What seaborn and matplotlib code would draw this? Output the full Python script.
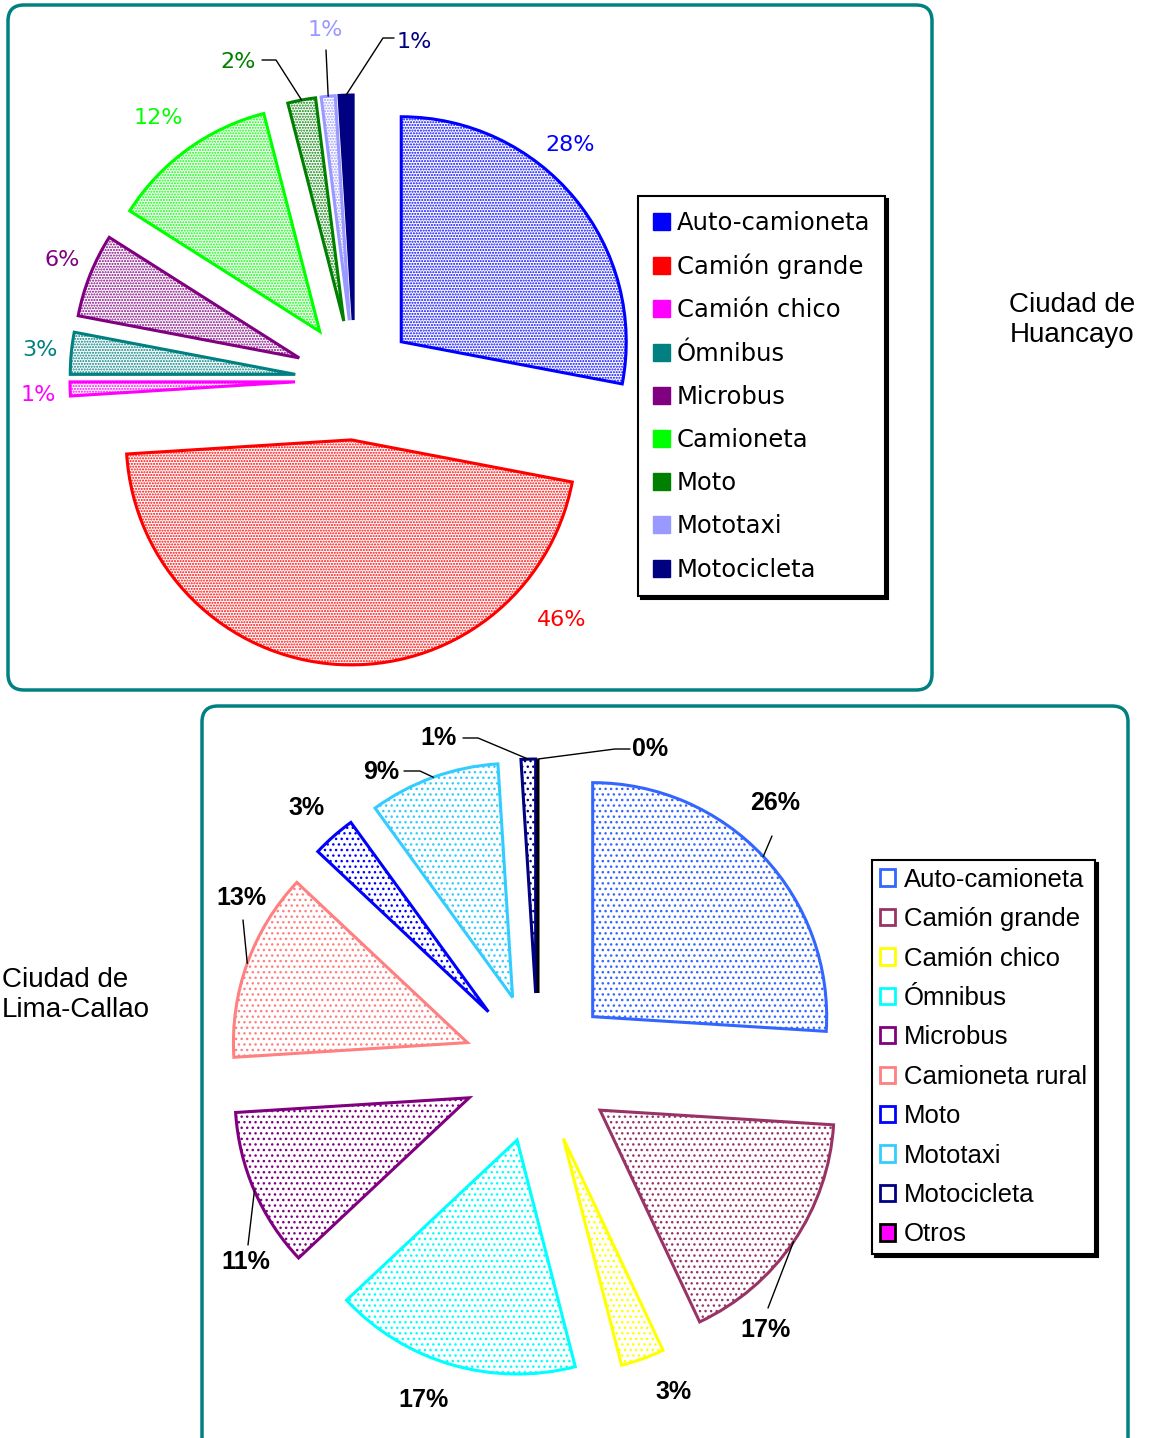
import matplotlib
matplotlib.use("Agg")
import matplotlib.pyplot as plt
import seaborn as sns
import numpy as np
from matplotlib.patches import FancyBboxPatch, Patch

sns.set_theme(style="white")
plt.rcParams['font.family'] = ['DejaVu Sans']
plt.rcParams['text.color'] = 'black'
plt.rcParams['hatch.linewidth'] = 1.0

W, H = 1151, 1438

# --- Ciudad de Huancayo ---
hu_categories = ['Auto-camioneta', 'Camión grande', 'Camión chico', 'Ómnibus', 'Microbus',
                 'Camioneta', 'Moto', 'Mototaxi', 'Motocicleta']
hu_values = [28, 46, 1, 3, 6, 12, 2, 1, 1]
hu_labels = ['28%', '46%', '1%', '3%', '6%', '12%', '2%', '1%', '1%']
hu_colors = ['#0000FF', '#FF0000', '#FF00FF', '#008080', '#800080',
             '#00FF00', '#008000', '#9999FF', '#000080']

# --- Ciudad de Lima-Callao ---
li_categories = ['Auto-camioneta', 'Camión grande', 'Camión chico', 'Ómnibus', 'Microbus',
                 'Camioneta rural', 'Moto', 'Mototaxi', 'Motocicleta', 'Otros']
li_values = [26, 17, 3, 17, 11, 13, 3, 9, 1, 0]
li_labels = ['26%', '17%', '3%', '17%', '11%', '13%', '3%', '9%', '1%', '0%']
li_colors = ['#3366FF', '#993366', '#FFFF00', '#00FFFF', '#800080',
             '#FF8080', '#0000FF', '#33CCFF', '#000080', '#FF00FF']

# layout (pixel coords, y measured from top)
hu_label_pos = [(570, 145), (562, 620), (38, 395), (40, 350), (62, 260),
                (158, 118), (238, 62), (325, 30), (414, 42)]
hu_leaders = {6: [(262, 60), (276, 60)], 7: [(326, 50)], 8: [(394, 38), (383, 38)]}
li_label_pos = [(775, 803), (766, 1330), (674, 1392), (424, 1400), (246, 1262),
                (241, 898), (307, 808), (381, 772), (439, 738), (650, 749)]
li_leaders = {0: [(772, 836)], 1: [(768, 1308)], 4: [(248, 1245)], 5: [(243, 920)],
              7: [(404, 771), (420, 771)], 8: [(463, 738), (478, 738)],
              9: [(630, 749), (615, 749)]}


def px(x, y):
    return x, H - y


def arc_mid(w):
    t = np.deg2rad((w.theta1 + w.theta2) / 2)
    return w.center[0] + w.r * np.cos(t), w.center[1] + w.r * np.sin(t)


fig = plt.figure(figsize=(W / 100, H / 100), dpi=100)
ax = fig.add_axes([0, 0, 1, 1])

# frames
ax.add_patch(FancyBboxPatch(px(8, 690), 924, 685, boxstyle="round,pad=0,rounding_size=16",
                            fc='none', ec='#008080', lw=2.5, zorder=0))
ax.add_patch(FancyBboxPatch(px(202, 1460), 926, 754, boxstyle="round,pad=0,rounding_size=16",
                            fc='none', ec='#008080', lw=2.5, zorder=0))

# top pie
hu_wedges, _ = ax.pie(hu_values, startangle=90, counterclock=False, radius=225,
                      center=px(355, 380), explode=[60] * len(hu_values),
                      wedgeprops=dict(linewidth=2.2))
for i, w in enumerate(hu_wedges):
    c = hu_colors[i]
    w.set_edgecolor(c)
    if hu_categories[i] == 'Motocicleta':
        w.set_facecolor(c)
    else:
        w.set_facecolor('white')
        w.set_hatch('......')

for i, (x, y) in enumerate(hu_label_pos):
    ax.text(*px(x, y), hu_labels[i], color=hu_colors[i], fontsize=16,
            ha='center', va='center', family=['DejaVu Sans'])
for i, pts in hu_leaders.items():
    xs = [px(*p)[0] for p in pts] + [arc_mid(hu_wedges[i])[0]]
    ys = [px(*p)[1] for p in pts] + [arc_mid(hu_wedges[i])[1]]
    ax.plot(xs, ys, color='black', lw=1)

# bottom pie
li_wedges, _ = ax.pie(li_values, startangle=90, counterclock=False, radius=234,
                      center=px(538, 1068), explode=[75] * len(li_values),
                      wedgeprops=dict(linewidth=2.2))
for i, w in enumerate(li_wedges):
    c = li_colors[i]
    w.set_facecolor('white')
    if li_categories[i] == 'Otros':
        w.set_edgecolor('black')
    else:
        w.set_edgecolor(c)
        w.set_hatch('...')

for i, (x, y) in enumerate(li_label_pos):
    ax.text(*px(x, y), li_labels[i], color='black', fontsize=18, fontweight='bold',
            ha='center', va='center', family=['Liberation Sans'])
for i, pts in li_leaders.items():
    xs = [px(*p)[0] for p in pts] + [arc_mid(li_wedges[i])[0]]
    ys = [px(*p)[1] for p in pts] + [arc_mid(li_wedges[i])[1]]
    ax.plot(xs, ys, color='black', lw=1)

# legends
hu_handles = [Patch(facecolor=c, edgecolor=c, hatch='++' if k != 'Motocicleta' else None)
              for c, k in zip(hu_colors, hu_categories)]
leg1 = ax.legend(hu_handles, hu_categories, loc='upper left',
                 bbox_to_anchor=(638 / W, 1 - 196 / H), bbox_transform=fig.transFigure,
                 borderaxespad=0, fancybox=False, edgecolor='black', framealpha=1,
                 shadow={'color': 'black', 'alpha': 1}, prop={'family': 'DejaVu Sans', 'size': 17.5},
                 labelcolor='black', labelspacing=0.79, handlelength=0.7, handleheight=0.7,
                 handletextpad=0.3, borderpad=0.6)
leg1.get_frame().set_linewidth(1.5)
ax.add_artist(leg1)

li_handles = [Patch(facecolor='#FF00FF' if k == 'Otros' else 'white',
                    edgecolor='black' if k == 'Otros' else c, lw=2)
              for c, k in zip(li_colors, li_categories)]
leg2 = ax.legend(li_handles, li_categories, loc='upper left',
                 bbox_to_anchor=(872 / W, 1 - 860 / H), bbox_transform=fig.transFigure,
                 borderaxespad=0, fancybox=False, edgecolor='black', framealpha=1,
                 shadow={'color': 'black', 'alpha': 1}, prop={'family': 'Liberation Sans', 'size': 18.5},
                 labelcolor='black', labelspacing=0.6, handlelength=0.6, handleheight=0.6,
                 handletextpad=0.35, borderpad=0.3)
leg2.get_frame().set_linewidth(1.5)

ax.text(*px(1072, 320), 'Ciudad de\nHuancayo', fontsize=20, ha='center', va='center',
        multialignment='center', family=['Liberation Sans'], color='black')
ax.text(*px(2, 995), 'Ciudad de\nLima-Callao', fontsize=20, ha='left', va='center',
        family=['Liberation Sans'], color='black')

ax.set_xlim(0, W)
ax.set_ylim(0, H)
ax.set_aspect('auto')
ax.axis('off')

fig.savefig('out.png', dpi=100, facecolor='white')
